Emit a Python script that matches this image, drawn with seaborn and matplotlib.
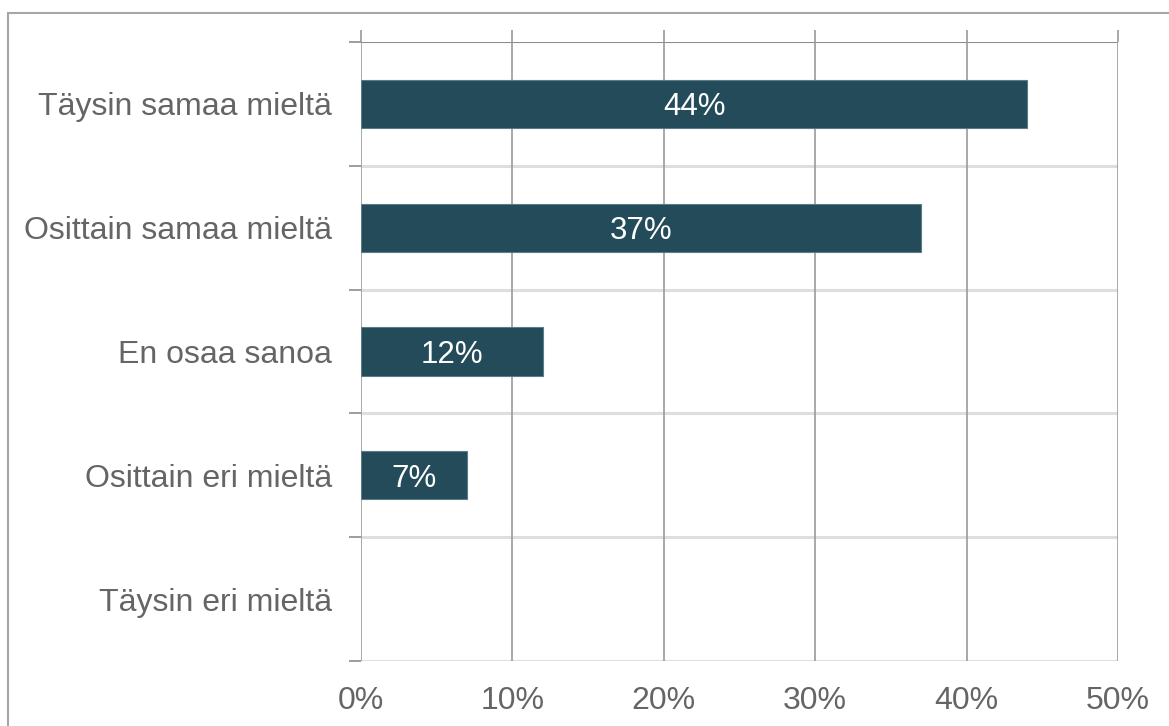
import matplotlib
matplotlib.use("Agg")
import matplotlib.pyplot as plt
import seaborn as sns
import pandas as pd
from matplotlib.patches import Rectangle

categories = ["Täysin samaa mieltä", "Osittain samaa mieltä", "En osaa sanoa",
              "Osittain eri mieltä", "Täysin eri mieltä"]
shares = [0.44, 0.37, 0.12, 0.07, 0.0]
bar_labels = ["44%", "37%", "12%", "7%", ""]
x_ticks = [0.0, 0.1, 0.2, 0.3, 0.4, 0.5]
x_tick_labels = ["0%", "10%", "20%", "30%", "40%", "50%"]

sns.set_theme(style="white")
plt.rcParams["font.family"] = ["Liberation Sans", "DejaVu Sans"]

TEXT = "#656565"
BAR = "#234B5A"

df = pd.DataFrame({"category": categories, "share": shares})

fig = plt.figure(figsize=(11.69, 7.26), dpi=100)
ax = fig.add_axes([361 / 1169, 1 - 661 / 726, (1118 - 361) / 1169, (661 - 42) / 726])

# outer frame around the chart area
fig.patches.append(Rectangle((8 / 1169, -0.05), 1.2, 1 - 13 / 726 + 0.05,
                             transform=fig.transFigure, fill=False,
                             edgecolor="#a6a6a6", linewidth=1.5))

sns.barplot(data=df, y="category", x="share", orient="h", color=BAR,
            width=0.39, saturation=1, linewidth=0, ax=ax, zorder=3)
for patch in ax.patches:
    if patch.get_width() > 0:
        patch.set_edgecolor("#5b7d89")
        patch.set_linewidth(0.8)

ax.set_xlim(0, 0.5)
ax.set_ylim(4.5, -0.5)
ax.set_xlabel("")
ax.set_ylabel("")

for s in ax.spines.values():
    s.set_visible(False)

# vertical grid lines
for xv in x_ticks:
    ax.axvline(xv, color="#9a9a9a", linewidth=1.2, zorder=2)
# horizontal separators between categories
n = len(categories)
for i in range(n + 1):
    yb = i - 0.5
    ax.axhline(yb, color="#8c8c8c" if i == 0 else "#dedede",
               linewidth=1.5 if i == 0 else 2.2, zorder=1)

ax.set_xticks(x_ticks)
ax.set_xticklabels(x_tick_labels)
ax.tick_params(axis="x", which="major", length=0, pad=18, labelsize=23, colors=TEXT)

ax.set_yticks(range(n))
ax.set_yticklabels(categories)
ax.set_yticks([i - 0.5 for i in range(n + 1)], minor=True)
ax.tick_params(axis="y", which="major", length=0, pad=21, labelsize=23, colors=TEXT)
ax.tick_params(axis="y", which="minor", length=9, width=1.2, color="#8c8c8c", left=True)

# small outward ticks above the top edge
top = ax.secondary_xaxis("top")
top.set_xticks(x_ticks)
top.tick_params(length=9, width=1.2, color="#9a9a9a", labeltop=False)
for s in top.spines.values():
    s.set_visible(False)

for i, (v, lab) in enumerate(zip(shares, bar_labels)):
    if lab:
        ax.text(v / 2, i, lab, ha="center", va="center_baseline", color="white",
                fontsize=22.5, zorder=4)

fig.savefig("out.png", dpi=100)
